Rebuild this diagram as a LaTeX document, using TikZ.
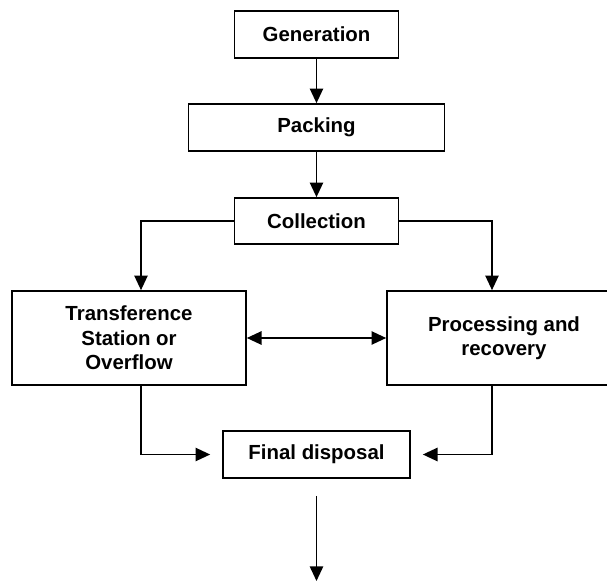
\documentclass[tikz,border=0pt]{standalone}
\usepackage{fontspec}
\setmainfont{Liberation Sans}
\usetikzlibrary{arrows.meta}

\tikzset{every picture/.style={line width=1.25pt}}
\tikzset{
	stage/.style={draw, rectangle, inner sep=0pt, align=center, font=\fontsize{15.3}{18.4}\selectfont\bfseries},
	flow/.style={-{Triangle[length=11pt,width=10pt]}},
	flowboth/.style={{Triangle[length=11pt,width=10pt]}-{Triangle[length=11pt,width=10pt]}}
}

\begin{document}
\begin{tikzpicture}[x=0.75pt,y=0.75pt,yscale=-1,xscale=1]
	%set diagram left start at 0, and has height of 582
	\useasboundingbox (0,0) rectangle (607,582);
	\clip (0,0) rectangle (607,582);
	
	% Text Node
	\node [stage, minimum width=123pt, minimum height=35.25pt] (gen) at (316.5,34.5) {Generation};
	% Text Node
	\node [stage, minimum width=192pt, minimum height=35.25pt] (pack) at (316.5,127.5) {Packing};
	% Text Node
	\node [stage, minimum width=123pt, minimum height=34.5pt] (coll) at (316.5,221) {Collection};
	% Text Node
	\node [stage, minimum width=175.5pt, minimum height=70.5pt] (trans) at (129,338) {Transference\\Station or\\Overflow};
	% Text Node
	\node [stage, minimum width=175.5pt, minimum height=70.5pt] (proc) at (504,338) {Processing and\\recovery};
	% Text Node
	\node [stage, minimum width=140.25pt, minimum height=35.25pt] (fin) at (316.5,454.5) {Final disposal};
	\coordinate (out) at (316.5,581);
	
	%Straight Lines
	\draw [flow] (gen) -- (pack);
	\draw [flow] (pack) -- (coll);
	\draw [flow] (coll.west) -| ([xshift=9pt]trans.north);
	\draw [flow] (coll.east) -| ([xshift=-9pt]proc.north);
	\draw [flowboth] (trans) -- (proc);
	\draw [flow, shorten >=9pt] ([xshift=9pt]trans.south) |- (fin.west);
	\draw [flow, shorten >=9pt] ([xshift=-9pt]proc.south) |- (fin.east);
	\draw [flow, shorten <=12.75pt] (fin) -- (out);
	
\end{tikzpicture}
\end{document}
